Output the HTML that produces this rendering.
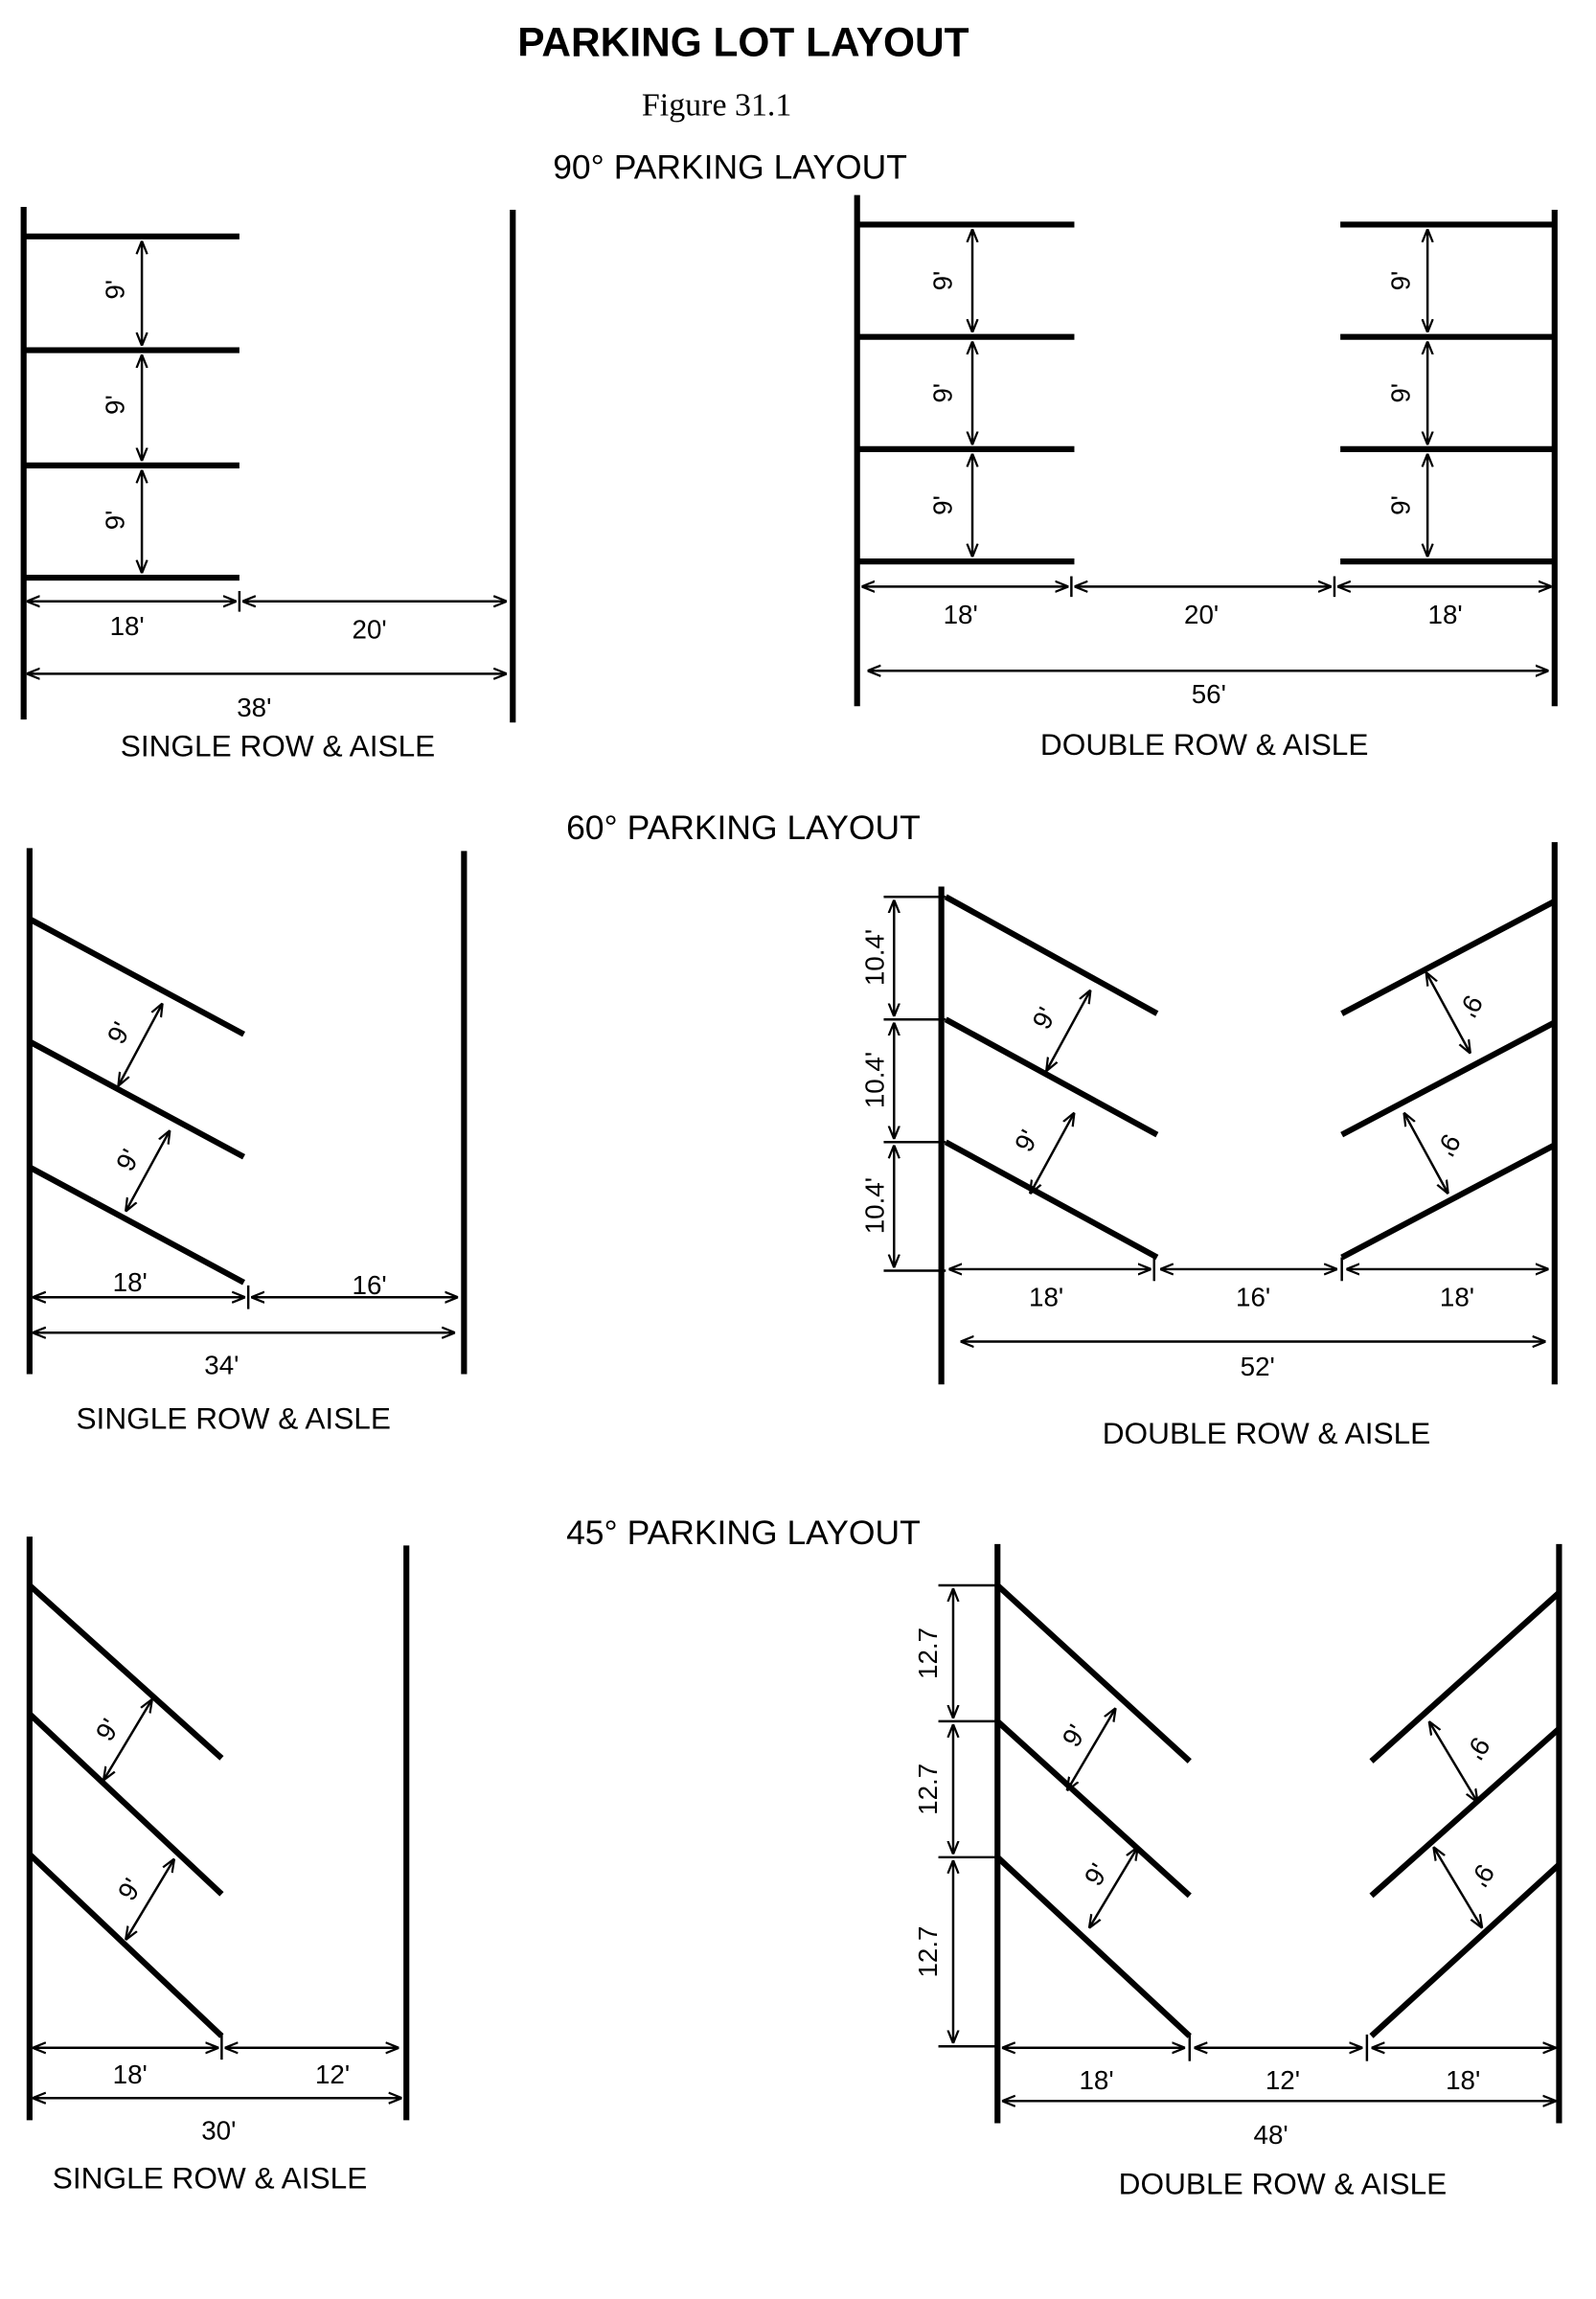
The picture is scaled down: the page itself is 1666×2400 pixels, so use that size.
<!DOCTYPE html>
<html><head><meta charset="utf-8">
<style>
html,body{margin:0;padding:0;background:#fff;}
svg{display:block;}
text{font-family:"Liberation Sans",sans-serif;fill:#000;}
</style></head>
<body>
<svg width="1666" height="2400" viewBox="0 0 1080 1556" preserveAspectRatio="none" xmlns="http://www.w3.org/2000/svg">
<defs>
<marker id="a" viewBox="0 0 10 10" refX="10" refY="5" markerWidth="9" markerHeight="9" orient="auto-start-reverse" markerUnits="userSpaceOnUse">
<path d="M0,1 L10,5 L0,9" fill="none" stroke="#000" stroke-width="1.6"/>
</marker>
</defs>
<rect width="1080" height="1556" fill="#fff"/>
<text x="503" y="38" font-size="27.5" font-weight="bold" text-anchor="middle">PARKING LOT LAYOUT</text>
<text x="485" y="78" font-size="22" text-anchor="middle" style="font-family:'Liberation Serif',serif">Figure 31.1</text>
<text x="494" y="121" font-size="23" text-anchor="middle">90° PARKING LAYOUT</text>
<text x="503" y="568" font-size="23" text-anchor="middle">60° PARKING LAYOUT</text>
<text x="503" y="1045" font-size="23" text-anchor="middle">45° PARKING LAYOUT</text>

<g stroke="#000" stroke-width="4" fill="none">
<line x1="16" y1="140" x2="16" y2="487"/>
<line x1="347" y1="142" x2="347" y2="489"/>
<line x1="16" y1="160" x2="162" y2="160"/><line x1="16" y1="237" x2="162" y2="237"/>
<line x1="16" y1="315" x2="162" y2="315"/><line x1="16" y1="391" x2="162" y2="391"/>
<line x1="580" y1="132" x2="580" y2="478"/>
<line x1="1052" y1="142" x2="1052" y2="478"/>
<line x1="580" y1="152" x2="727" y2="152"/><line x1="580" y1="228" x2="727" y2="228"/>
<line x1="580" y1="304" x2="727" y2="304"/><line x1="580" y1="380" x2="727" y2="380"/>
<line x1="907" y1="152" x2="1052" y2="152"/><line x1="907" y1="228" x2="1052" y2="228"/>
<line x1="907" y1="304" x2="1052" y2="304"/><line x1="907" y1="380" x2="1052" y2="380"/>
<line x1="20" y1="574" x2="20" y2="930"/>
<line x1="314" y1="576" x2="314" y2="930"/>
<line x1="20" y1="622" x2="165" y2="700"/><line x1="20" y1="705" x2="165" y2="783"/><line x1="20" y1="790" x2="165" y2="868"/>
<line x1="637" y1="600" x2="637" y2="937"/>
<line x1="1052" y1="570" x2="1052" y2="937"/>
<line x1="640" y1="607" x2="783" y2="686"/><line x1="640" y1="690" x2="783" y2="768"/><line x1="640" y1="773" x2="783" y2="851"/>
<line x1="1052" y1="610" x2="908" y2="686"/><line x1="1052" y1="692" x2="908" y2="768"/><line x1="1052" y1="775" x2="908" y2="851"/>
<line x1="20" y1="1040" x2="20" y2="1435"/>
<line x1="275" y1="1046" x2="275" y2="1435"/>
<line x1="20" y1="1073" x2="150" y2="1190"/><line x1="20" y1="1160" x2="150" y2="1282"/><line x1="20" y1="1255" x2="150" y2="1378"/>
<line x1="675" y1="1045" x2="675" y2="1437"/>
<line x1="1055" y1="1045" x2="1055" y2="1437"/>
<line x1="675" y1="1073" x2="805" y2="1192"/><line x1="675" y1="1165" x2="805" y2="1283"/><line x1="675" y1="1257" x2="805" y2="1378"/>
<line x1="1055" y1="1078" x2="928" y2="1192"/><line x1="1055" y1="1170" x2="928" y2="1283"/><line x1="1055" y1="1262" x2="928" y2="1378"/>
</g>

<g stroke="#000" stroke-width="1.6" fill="none">
<line x1="96" y1="163" x2="96" y2="234" marker-start="url(#a)" marker-end="url(#a)"/>
<line x1="96" y1="240" x2="96" y2="312" marker-start="url(#a)" marker-end="url(#a)"/>
<line x1="96" y1="318" x2="96" y2="388" marker-start="url(#a)" marker-end="url(#a)"/>
<line x1="18" y1="407" x2="160" y2="407" marker-start="url(#a)" marker-end="url(#a)"/>
<line x1="164" y1="407" x2="343" y2="407" marker-start="url(#a)" marker-end="url(#a)"/>
<line x1="162" y1="400" x2="162" y2="414"/>
<line x1="18" y1="456" x2="343" y2="456" marker-start="url(#a)" marker-end="url(#a)"/>
<line x1="658" y1="155" x2="658" y2="225" marker-start="url(#a)" marker-end="url(#a)"/>
<line x1="658" y1="231" x2="658" y2="301" marker-start="url(#a)" marker-end="url(#a)"/>
<line x1="658" y1="307" x2="658" y2="377" marker-start="url(#a)" marker-end="url(#a)"/>
<line x1="966" y1="155" x2="966" y2="225" marker-start="url(#a)" marker-end="url(#a)"/>
<line x1="966" y1="231" x2="966" y2="301" marker-start="url(#a)" marker-end="url(#a)"/>
<line x1="966" y1="307" x2="966" y2="377" marker-start="url(#a)" marker-end="url(#a)"/>
<line x1="583" y1="397" x2="723" y2="397" marker-start="url(#a)" marker-end="url(#a)"/>
<line x1="727" y1="397" x2="901" y2="397" marker-start="url(#a)" marker-end="url(#a)"/>
<line x1="905" y1="397" x2="1050" y2="397" marker-start="url(#a)" marker-end="url(#a)"/>
<line x1="725" y1="390" x2="725" y2="404"/><line x1="903" y1="390" x2="903" y2="404"/>
<line x1="587" y1="454" x2="1048" y2="454" marker-start="url(#a)" marker-end="url(#a)"/>
<line x1="80" y1="735" x2="110" y2="679" marker-start="url(#a)" marker-end="url(#a)"/>
<line x1="85" y1="820" x2="115" y2="765" marker-start="url(#a)" marker-end="url(#a)"/>
<line x1="22" y1="878" x2="166" y2="878" marker-start="url(#a)" marker-end="url(#a)"/>
<line x1="170" y1="878" x2="310" y2="878" marker-start="url(#a)" marker-end="url(#a)"/>
<line x1="168" y1="870" x2="168" y2="886"/>
<line x1="22" y1="902" x2="308" y2="902" marker-start="url(#a)" marker-end="url(#a)"/>
<line x1="598" y1="607" x2="640" y2="607"/><line x1="598" y1="690" x2="640" y2="690"/>
<line x1="598" y1="773" x2="640" y2="773"/><line x1="598" y1="860" x2="640" y2="860"/>
<line x1="605" y1="609" x2="605" y2="688" marker-start="url(#a)" marker-end="url(#a)"/>
<line x1="605" y1="692" x2="605" y2="771" marker-start="url(#a)" marker-end="url(#a)"/>
<line x1="605" y1="775" x2="605" y2="858" marker-start="url(#a)" marker-end="url(#a)"/>
<line x1="708" y1="725" x2="738" y2="670" marker-start="url(#a)" marker-end="url(#a)"/>
<line x1="697" y1="808" x2="727" y2="753" marker-start="url(#a)" marker-end="url(#a)"/>
<line x1="995" y1="713" x2="965" y2="658" marker-start="url(#a)" marker-end="url(#a)"/>
<line x1="980" y1="808" x2="950" y2="753" marker-start="url(#a)" marker-end="url(#a)"/>
<line x1="642" y1="859" x2="779" y2="859" marker-start="url(#a)" marker-end="url(#a)"/>
<line x1="785" y1="859" x2="905" y2="859" marker-start="url(#a)" marker-end="url(#a)"/>
<line x1="911" y1="859" x2="1048" y2="859" marker-start="url(#a)" marker-end="url(#a)"/>
<line x1="781" y1="851" x2="781" y2="867"/><line x1="908" y1="851" x2="908" y2="867"/>
<line x1="650" y1="908" x2="1046" y2="908" marker-start="url(#a)" marker-end="url(#a)"/>
<line x1="70" y1="1205" x2="103" y2="1150" marker-start="url(#a)" marker-end="url(#a)"/>
<line x1="85" y1="1313" x2="118" y2="1258" marker-start="url(#a)" marker-end="url(#a)"/>
<line x1="22" y1="1386" x2="148" y2="1386" marker-start="url(#a)" marker-end="url(#a)"/>
<line x1="152" y1="1386" x2="270" y2="1386" marker-start="url(#a)" marker-end="url(#a)"/>
<line x1="150" y1="1376" x2="150" y2="1394"/>
<line x1="22" y1="1420" x2="272" y2="1420" marker-start="url(#a)" marker-end="url(#a)"/>
<line x1="635" y1="1073" x2="675" y2="1073"/><line x1="635" y1="1165" x2="675" y2="1165"/>
<line x1="635" y1="1257" x2="675" y2="1257"/><line x1="635" y1="1385" x2="675" y2="1385"/>
<line x1="645" y1="1075" x2="645" y2="1163" marker-start="url(#a)" marker-end="url(#a)"/>
<line x1="645" y1="1167" x2="645" y2="1255" marker-start="url(#a)" marker-end="url(#a)"/>
<line x1="645" y1="1259" x2="645" y2="1383" marker-start="url(#a)" marker-end="url(#a)"/>
<line x1="722" y1="1212" x2="755" y2="1156" marker-start="url(#a)" marker-end="url(#a)"/>
<line x1="737" y1="1305" x2="770" y2="1250" marker-start="url(#a)" marker-end="url(#a)"/>
<line x1="1000" y1="1220" x2="967" y2="1165" marker-start="url(#a)" marker-end="url(#a)"/>
<line x1="1003" y1="1305" x2="970" y2="1250" marker-start="url(#a)" marker-end="url(#a)"/>
<line x1="678" y1="1386" x2="802" y2="1386" marker-start="url(#a)" marker-end="url(#a)"/>
<line x1="808" y1="1386" x2="922" y2="1386" marker-start="url(#a)" marker-end="url(#a)"/>
<line x1="928" y1="1386" x2="1053" y2="1386" marker-start="url(#a)" marker-end="url(#a)"/>
<line x1="805" y1="1377" x2="805" y2="1395"/><line x1="925" y1="1377" x2="925" y2="1395"/>
<line x1="678" y1="1422" x2="1053" y2="1422" marker-start="url(#a)" marker-end="url(#a)"/>
</g>

<g font-size="18" text-anchor="middle">
<text transform="translate(84,196) rotate(-90)">9'</text>
<text transform="translate(84,274) rotate(-90)">9'</text>
<text transform="translate(84,352) rotate(-90)">9'</text>
<text x="86" y="430">18'</text><text x="250" y="432">20'</text>
<text x="172" y="485">38'</text>
<text x="188" y="512" font-size="20.5">SINGLE ROW &amp; AISLE</text>
<text transform="translate(644,190) rotate(-90)">9'</text>
<text transform="translate(644,266) rotate(-90)">9'</text>
<text transform="translate(644,342) rotate(-90)">9'</text>
<text transform="translate(954,190) rotate(-90)">9'</text>
<text transform="translate(954,266) rotate(-90)">9'</text>
<text transform="translate(954,342) rotate(-90)">9'</text>
<text x="650" y="422">18'</text><text x="813" y="422">20'</text><text x="978" y="422">18'</text>
<text x="818" y="476">56'</text>
<text x="815" y="511" font-size="20.5">DOUBLE ROW &amp; AISLE</text>
<text transform="translate(86,702) rotate(-62)">9'</text>
<text transform="translate(92,788) rotate(-62)">9'</text>
<text x="88" y="874">18'</text><text x="250" y="876">16'</text>
<text x="150" y="930">34'</text>
<text x="158" y="967" font-size="20.5">SINGLE ROW &amp; AISLE</text>
<text transform="translate(598,648) rotate(-90)">10.4'</text>
<text transform="translate(598,731) rotate(-90)">10.4'</text>
<text transform="translate(598,816) rotate(-90)">10.4'</text>
<text transform="translate(712,692) rotate(-62)">9'</text>
<text transform="translate(700,775) rotate(-62)">9'</text>
<text transform="translate(990,678) rotate(118)">9'</text>
<text transform="translate(975,772) rotate(118)">9'</text>
<text x="708" y="884">18'</text><text x="848" y="884">16'</text><text x="986" y="884">18'</text>
<text x="851" y="931">52'</text>
<text x="857" y="977" font-size="20.5">DOUBLE ROW &amp; AISLE</text>
<text transform="translate(78,1174) rotate(-58)">9'</text>
<text transform="translate(93,1282) rotate(-58)">9'</text>
<text x="88" y="1410">18'</text><text x="225" y="1410">12'</text>
<text x="148" y="1448">30'</text>
<text x="142" y="1481" font-size="20.5">SINGLE ROW &amp; AISLE</text>
<text transform="translate(634,1119) rotate(-90)">12.7</text>
<text transform="translate(634,1211) rotate(-90)">12.7</text>
<text transform="translate(634,1321) rotate(-90)">12.7</text>
<text transform="translate(732,1178) rotate(-58)">9'</text>
<text transform="translate(747,1272) rotate(-58)">9'</text>
<text transform="translate(995,1180) rotate(122)">9'</text>
<text transform="translate(998,1266) rotate(122)">9'</text>
<text x="742" y="1414">18'</text><text x="868" y="1414">12'</text><text x="990" y="1414">18'</text>
<text x="860" y="1451">48'</text>
<text x="868" y="1485" font-size="20.5">DOUBLE ROW &amp; AISLE</text>
</g>
</svg>
</body></html>
